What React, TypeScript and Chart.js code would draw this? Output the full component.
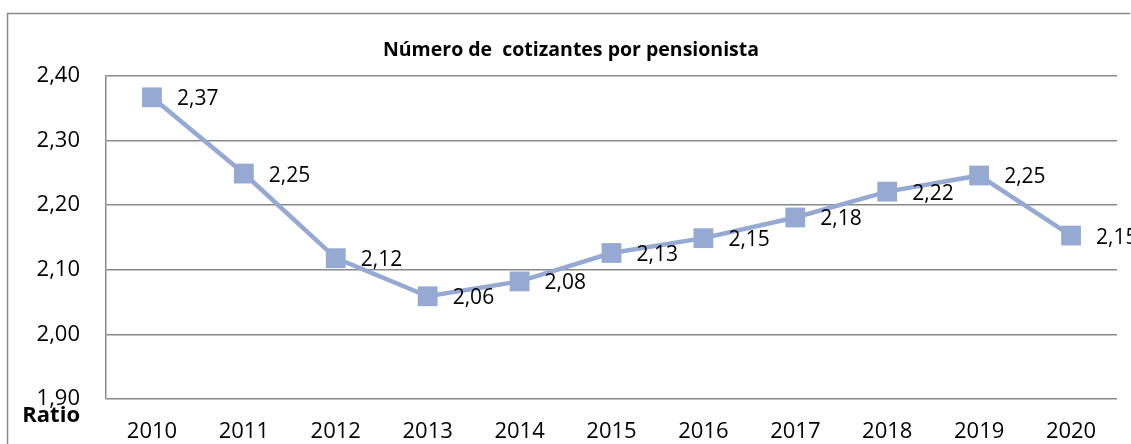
import React, { useEffect, useRef } from "react";
import { Chart, registerables } from "chart.js";

Chart.register(...registerables);

const categories = ["2010", "2011", "2012", "2013", "2014", "2015", "2016", "2017", "2018", "2019", "2020"];
const ratioValues = [2.367, 2.249, 2.118, 2.059, 2.082, 2.126, 2.149, 2.181, 2.221, 2.246, 2.153];
const yMin = 1.9;
const yMax = 2.4;
const yStep = 0.1;
const chartTitle = "Número de  cotizantes por pensionista";
const yAxisTitle = "Ratio";

const FONT = "'Open Sans', 'Liberation Sans', sans-serif";
const SERIES_COLOR = "#95A9D2";
const GRID_COLOR = "#8a8a8a";

const fmt = (v: number) => v.toFixed(2).replace(".", ",");

const decorPlugin = {
  id: "decor",
  beforeDraw(chart: any) {
    const ctx = chart.ctx;
    ctx.save();
    ctx.strokeStyle = GRID_COLOR;
    ctx.lineWidth = 1.5;
    ctx.beginPath();
    ctx.moveTo(7.5, chart.height);
    ctx.lineTo(7.5, 13.5);
    ctx.lineTo(chart.width - 1, 13.5);
    ctx.stroke();
    ctx.restore();
  },
  afterDraw(chart: any) {
    const ctx = chart.ctx;
    ctx.save();
    ctx.fillStyle = "#000";
    ctx.font = `bold 19.5px ${FONT}`;
    ctx.textAlign = "center";
    ctx.textBaseline = "middle";
    ctx.fillText(chartTitle, 571, 50);

    ctx.font = `bold 22px ${FONT}`;
    ctx.textAlign = "right";
    ctx.fillText(yAxisTitle, 80, 416);

    const meta = chart.getDatasetMeta(0);
    ctx.font = `21px ${FONT}`;
    ctx.textAlign = "left";
    ctx.textBaseline = "middle";
    meta.data.forEach((pt: any, i: number) => {
      ctx.fillText(fmt(ratioValues[i]), pt.x + 25, pt.y + 2);
    });
    ctx.restore();
  },
};

export default function App() {
  const canvasRef = useRef<HTMLCanvasElement | null>(null);

  useEffect(() => {
    const canvas = canvasRef.current;
    if (!canvas) return;
    const chart = new Chart(canvas, {
      type: "line",
      data: {
        labels: categories,
        datasets: [
          {
            data: ratioValues,
            borderColor: SERIES_COLOR,
            backgroundColor: SERIES_COLOR,
            borderWidth: 4.5,
            pointStyle: "rect",
            pointRadius: 14,
            pointBorderWidth: 0,
            pointBackgroundColor: SERIES_COLOR,
            tension: 0,
          },
        ],
      },
      options: {
        responsive: false,
        animation: false,
        devicePixelRatio: 1,
        layout: { padding: { top: 76, right: 8, bottom: 0, left: 0 } },
        plugins: {
          legend: { display: false },
          tooltip: { enabled: false },
          title: { display: false },
        },
        scales: {
          x: {
            offset: true,
            grid: { display: false, drawTicks: false },
            border: { display: false },
            ticks: {
              color: "#000",
              font: { family: FONT, size: 22 },
              padding: 20,
              maxRotation: 0,
              autoSkip: false,
            },
            afterFit: (scale: any) => {
              scale.height = 45;
            },
          },
          y: {
            min: yMin,
            max: yMax,
            grid: { color: GRID_COLOR, lineWidth: 1.5, drawTicks: false },
            border: { display: true, color: GRID_COLOR, width: 1.5 },
            ticks: {
              stepSize: yStep,
              color: "#000",
              font: { family: FONT, size: 22 },
              padding: 26,
              callback: (v: any) => fmt(Number(v)),
            },
            afterFit: (scale: any) => {
              scale.width = 106;
            },
          },
        },
      },
      plugins: [decorPlugin],
    });
    return () => chart.destroy();
  }, []);

  return (
    <div style={{ position: "fixed", left: 0, top: 0, width: 1131, height: 444, background: "#fff" }}>
      <canvas ref={canvasRef} width={1131} height={444} style={{ display: "block" }} />
    </div>
  );
}
